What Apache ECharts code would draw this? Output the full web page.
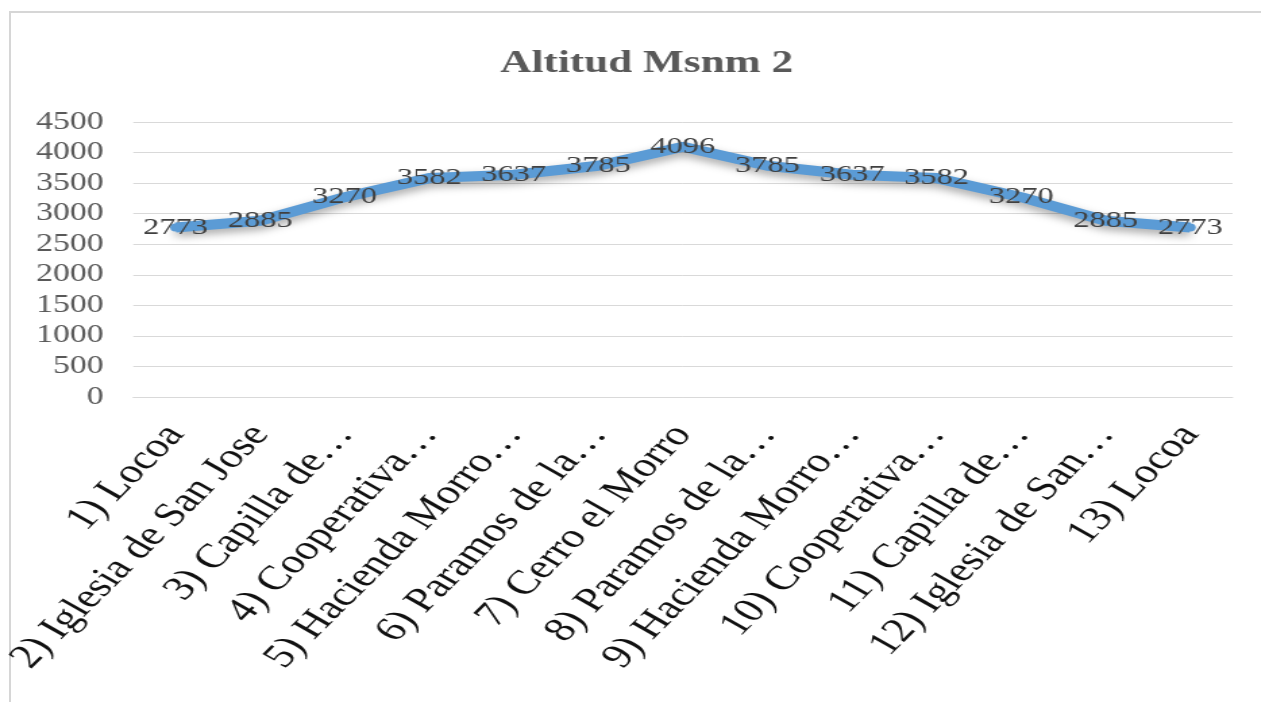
<!DOCTYPE html>
<html>
<head>
<meta charset="utf-8">
<script src="https://cdn.jsdelivr.net/npm/echarts@6/dist/echarts.min.js"></script>
<style>
html,body{margin:0;padding:0;background:#fff;overflow:hidden;}
#frame{position:absolute;left:9px;top:11px;width:1300px;height:760px;border-left:2px solid #d6d6d6;border-top:2px solid #d6d6d6;}
#chart{position:absolute;left:0;top:0;width:934px;height:702px;transform:scaleX(1.35);transform-origin:0 0;}
</style>
</head>
<body>
<div id="frame"></div>
<div id="chart"></div>
<script>
const categories = ["1) Locoa","2) Iglesia de San Jose","3) Capilla de…","4) Cooperativa…","5) Hacienda Morro…","6) Paramos de la…","7) Cerro el Morro","8) Paramos de la…","9) Hacienda Morro…","10) Cooperativa…","11) Capilla de…","12) Iglesia de San…","13) Locoa"];
const altitudes = [2773,2885,3270,3582,3637,3785,4096,3785,3637,3582,3270,2885,2773];
const yTicks = {min:0, max:4500, interval:500};
const titleText = "Altitud Msnm 2";

const chart = echarts.init(document.getElementById('chart'), null, {renderer:'canvas'});
chart.setOption({
  backgroundColor:'transparent',
  animation:false,
  title:{
    text:titleText, left:474, top:43, textAlign:'center',
    textStyle:{fontFamily:'Liberation Serif', fontSize:32, fontWeight:'bold', color:'#595959'}
  },
  grid:{left:98.5, right:21, top:122, bottom:305, containLabel:false},
  xAxis:{
    type:'category', data:categories, boundaryGap:true,
    axisLine:{show:true, lineStyle:{color:'#d9d9d9', width:1}},
    axisTick:{show:false},
    axisLabel:{interval:0, rotate:53, margin:32, fontFamily:'Liberation Serif', fontSize:34, color:'#111111', hideOverlap:false}
  },
  yAxis:{
    type:'value', min:yTicks.min, max:yTicks.max, interval:yTicks.interval,
    axisLine:{show:false}, axisTick:{show:false},
    axisLabel:{margin:22, fontFamily:'Liberation Serif', fontSize:25, color:'#595959', formatter:function(v){return String(v);}},
    splitLine:{lineStyle:{color:'#d9d9d9', width:1}}
  },
  series:[{
    type:'line', data:altitudes,
    symbol:'circle', symbolSize:8, showSymbol:true,
    itemStyle:{color:'#5B9BD5'},
    lineStyle:{color:'#5B9BD5', width:10, shadowColor:'rgba(0,0,0,0.35)', shadowBlur:8, shadowOffsetY:4},
    label:{show:true, position:'inside', fontFamily:'Liberation Serif', fontSize:24, color:'#404040'}
  }]
});
</script>
</body>
</html>
